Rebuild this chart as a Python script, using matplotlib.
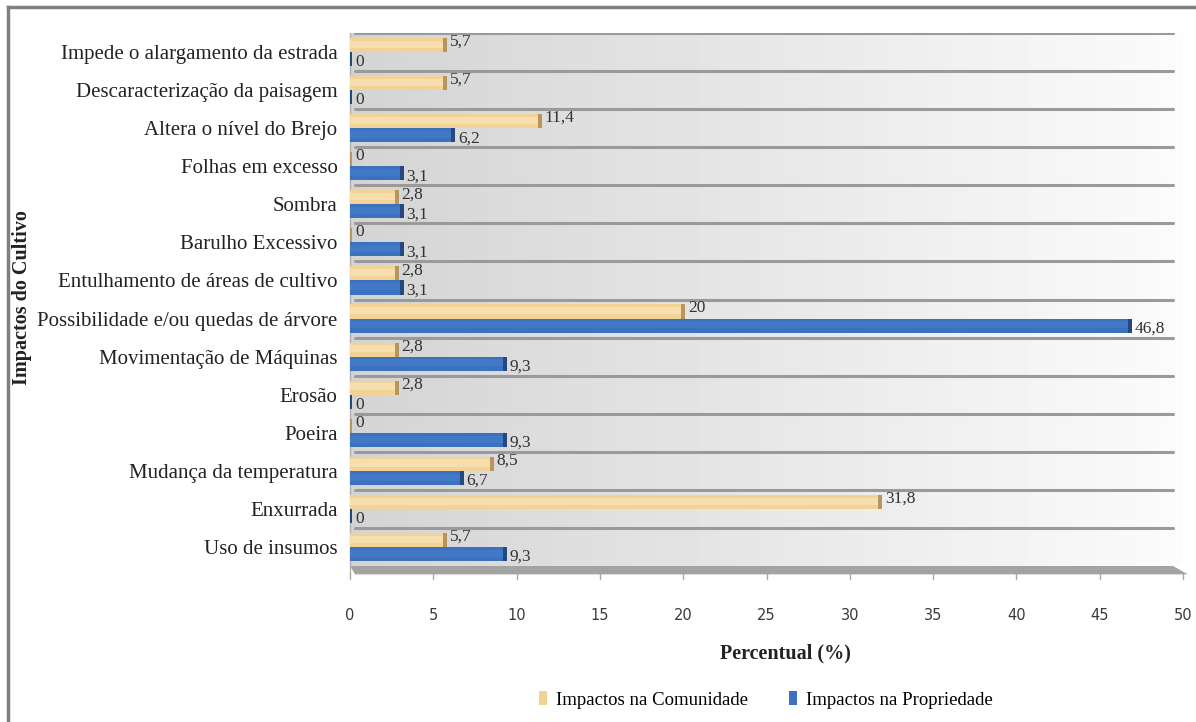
import matplotlib.pyplot as plt
import numpy as np
from matplotlib.patches import Polygon, Patch
from matplotlib.lines import Line2D

# categories listed bottom -> top, as drawn on the y axis
categorias = ["Uso de insumos", "Enxurrada", "Mudança da temperatura", "Poeira",
              "Erosão", "Movimentação de Máquinas",
              "Possibilidade e/ou quedas de árvore",
              "Entulhamento de áreas de cultivo", "Barulho Excessivo", "Sombra",
              "Folhas em excesso", "Altera o nível do Brejo",
              "Descaracterização da paisagem", "Impede o alargamento da estrada"]
comunidade = [5.7, 31.8, 8.5, 0, 2.8, 2.8, 20, 2.8, 0, 2.8, 0, 11.4, 5.7, 5.7]
propriedade = [9.3, 0, 6.7, 9.3, 0, 9.3, 46.8, 3.1, 3.1, 3.1, 3.1, 6.2, 0, 0]
xticks = [0, 5, 10, 15, 20, 25, 30, 35, 40, 45, 50]

serif = "Liberation Serif"
fig = plt.figure(figsize=(11.96, 7.22), dpi=100)
ax = fig.add_axes([350/1196, 1-566/722, (1183-350)/1196, (566-33)/722])

n = len(categorias)
y = np.arange(n)
ax.set_xlim(0, 50)
ax.set_ylim(-0.5, n - 0.5)

# gray gradient back wall
grad = np.linspace(0.83, 0.985, 256).reshape(1, -1)
ax.imshow(grad, cmap="gray", vmin=0, vmax=1, aspect="auto",
          extent=[0, 50, -0.5, n - 0.5], zorder=0)

# band lines
for k in range(n):
    ax.plot([0.3, 49.4], [k + 0.5, k + 0.5], color="#9a9a9a", lw=2.2,
            solid_capstyle="round", zorder=1)

# floor strip
floor = Polygon([[0, -0.5], [49.4, -0.5], [50.3, -0.72], [0.3, -0.72]],
                closed=True, facecolor="#a3a3a3", edgecolor="none",
                clip_on=False, zorder=1)
ax.add_patch(floor)

h = 0.37
off = 0.185
cap = 0.25
tan, tan_end = "#f2d395", "#b8955a"
blue, blue_end = "#3b71bf", "#24497f"

ax.barh(y + off, comunidade, height=h, color=tan, zorder=2)
ax.barh(y - off, propriedade, height=h, color=blue, zorder=2)
# soft lighter band for the glossy look
ax.barh(y + off + 0.02, comunidade, height=h * 0.5, color="#f6deaf", zorder=2)
ax.barh(y - off + 0.02, propriedade, height=h * 0.5, color="#4279c6", zorder=2)
# dark end caps (3D side)
ax.barh(y + off, [cap] * n, left=np.array(comunidade) - cap * 0.5,
        height=h, color=tan_end, zorder=3)
ax.barh(y - off, [cap] * n, left=np.array(propriedade) - cap * 0.5,
        height=h, color=blue_end, zorder=3)

def fmt(v):
    s = ("%g" % v).replace(".", ",")
    return s

for i in range(n):
    ax.text(comunidade[i] + 0.3, y[i] + off + 0.08, fmt(comunidade[i]),
            family=serif, fontsize=12.5, color="#333333", va="center",
            ha="left", zorder=4)
    ax.text(propriedade[i] + 0.3, y[i] - off - 0.08, fmt(propriedade[i]),
            family=serif, fontsize=12.5, color="#333333", va="center",
            ha="left", zorder=4)

ax.set_yticks(y)
ax.set_yticklabels(categorias, family=serif, fontsize=15, color="#222222")
ax.tick_params(axis="y", length=0, pad=9)

ax.set_xticks(xticks)
ax.set_xticklabels([str(t) for t in xticks], family="DejaVu Sans",
                   fontsize=10.5, color="#3a3a3a")
ax.tick_params(axis="x", length=0, pad=30)
for t in xticks:
    ax.plot([t, t], [-0.72, -0.85], color="#aaaaaa", lw=1, clip_on=False,
            zorder=1)

for s in ax.spines.values():
    s.set_visible(False)
ax.plot([0, 0], [-0.72, n - 0.5], color="#b0b0b0", lw=1, clip_on=False,
        zorder=1)

ax.set_xlabel("Percentual (%)", family=serif, fontsize=14.5, fontweight="bold",
              color="#222222")
ax.xaxis.set_label_coords((785-350)/833, -(643-566)/533)
fig.text(22/1196, 1-298/722, "Impactos do Cultivo", family=serif, fontsize=14.5,
         fontweight="bold", rotation=90, va="center", ha="center",
         color="#222222")

handles = [Patch(facecolor=tan, edgecolor="none"),
           Patch(facecolor=blue, edgecolor="none")]
fig.legend(handles, ["Impactos na Comunidade", "Impactos na Propriedade"],
           loc="center", bbox_to_anchor=(766/1196, 1-700/722), ncol=2,
           frameon=False, prop={"family": serif, "size": 13.5},
           handlelength=0.4, handleheight=0.7, handletextpad=0.5,
           columnspacing=2.2)

# outer frame lines (top and left visible in the source)
fig.add_artist(Line2D([8/1196, 1], [1-7/722, 1-7/722], color="#808080", lw=2.5))
fig.add_artist(Line2D([8/1196, 8/1196], [0, 1-7/722], color="#808080", lw=2.5))

fig.savefig("out.png", dpi=100)
